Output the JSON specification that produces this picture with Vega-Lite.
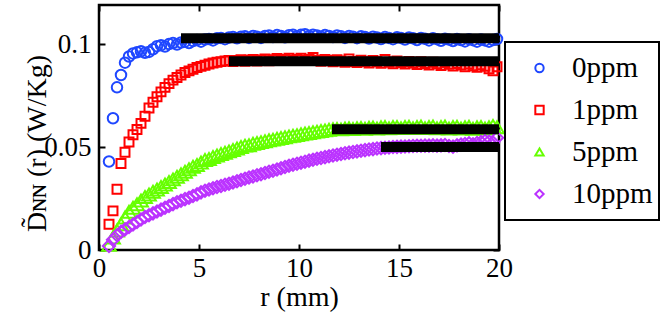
{
"$schema":"https://vega.github.io/schema/vega-lite/v6.json",
"width":400,"height":245,
"autosize":"none",
"padding":{"left":99,"top":5,"right":165,"bottom":82},
"background":"white",
"config":{
"view":{"stroke":"black","strokeWidth":2.5},
"font":"Liberation Serif",
"axis":{"labelFont":"Liberation Serif","labelFontSize":27,"labelColor":"black","titleFont":"Liberation Serif","titleFontSize":28,"titleFontWeight":"normal","titleColor":"black","tickColor":"black","tickWidth":2,"tickSize":-6,"domain":false,"grid":false,"labelFlush":false,"labelOverlap":false},
"legend":{"labelFont":"Liberation Serif","labelFontSize":29,"labelColor":"black","strokeColor":"black","strokeWidth":2,"fillColor":"white","symbolStrokeWidth":2,"symbolFillColor":"transparent"}
},
"datasets":{
"pts":[
{"r":0.5,"D":0.043,"c":"0ppm"},{"r":0.7,"D":0.064,"c":"0ppm"},{"r":0.9,"D":0.079,"c":"0ppm"},{"r":1.1,"D":0.085,"c":"0ppm"},{"r":1.3,"D":0.091,"c":"0ppm"},{"r":1.5,"D":0.094,"c":"0ppm"},{"r":1.7,"D":0.0955,"c":"0ppm"},{"r":1.9,"D":0.096,"c":"0ppm"},{"r":2.1,"D":0.0965,"c":"0ppm"},{"r":2.3,"D":0.0958,"c":"0ppm"},{"r":2.5,"D":0.0962,"c":"0ppm"},{"r":2.7,"D":0.0975,"c":"0ppm"},{"r":2.9,"D":0.099,"c":"0ppm"},{"r":3.1,"D":0.0995,"c":"0ppm"},{"r":3.3,"D":0.0988,"c":"0ppm"},{"r":3.5,"D":0.1,"c":"0ppm"},{"r":3.7,"D":0.1005,"c":"0ppm"},{"r":3.9,"D":0.0998,"c":"0ppm"},{"r":4.1,"D":0.1008,"c":"0ppm"},{"r":4.3,"D":0.1012,"c":"0ppm"},{"r":4.5,"D":0.1005,"c":"0ppm"},{"r":4.7,"D":0.1015,"c":"0ppm"},{"r":4.9,"D":0.102,"c":"0ppm"},{"r":5.1,"D":0.1012,"c":"0ppm"},{"r":5.3,"D":0.1022,"c":"0ppm"},{"r":5.5,"D":0.1025,"c":"0ppm"},{"r":5.7,"D":0.1018,"c":"0ppm"},{"r":5.9,"D":0.1028,"c":"0ppm"},{"r":6.1,"D":0.103,"c":"0ppm"},{"r":6.3,"D":0.1024,"c":"0ppm"},{"r":6.5,"D":0.1032,"c":"0ppm"},{"r":6.7,"D":0.1035,"c":"0ppm"},{"r":6.9,"D":0.1028,"c":"0ppm"},{"r":7.1,"D":0.1036,"c":"0ppm"},{"r":7.3,"D":0.1038,"c":"0ppm"},{"r":7.5,"D":0.103,"c":"0ppm"},{"r":7.7,"D":0.104,"c":"0ppm"},{"r":7.9,"D":0.1036,"c":"0ppm"},{"r":8.1,"D":0.103,"c":"0ppm"},{"r":8.3,"D":0.104,"c":"0ppm"},{"r":8.5,"D":0.1042,"c":"0ppm"},{"r":8.7,"D":0.1034,"c":"0ppm"},{"r":8.9,"D":0.1044,"c":"0ppm"},{"r":9.1,"D":0.104,"c":"0ppm"},{"r":9.3,"D":0.1033,"c":"0ppm"},{"r":9.5,"D":0.1043,"c":"0ppm"},{"r":9.7,"D":0.1046,"c":"0ppm"},{"r":9.9,"D":0.1038,"c":"0ppm"},{"r":10.1,"D":0.1045,"c":"0ppm"},{"r":10.3,"D":0.1048,"c":"0ppm"},{"r":10.5,"D":0.104,"c":"0ppm"},{"r":10.7,"D":0.1046,"c":"0ppm"},{"r":10.9,"D":0.1042,"c":"0ppm"},{"r":11.1,"D":0.1036,"c":"0ppm"},{"r":11.3,"D":0.1044,"c":"0ppm"},{"r":11.5,"D":0.104,"c":"0ppm"},{"r":11.7,"D":0.1034,"c":"0ppm"},{"r":11.9,"D":0.1042,"c":"0ppm"},{"r":12.1,"D":0.1038,"c":"0ppm"},{"r":12.3,"D":0.103,"c":"0ppm"},{"r":12.5,"D":0.104,"c":"0ppm"},{"r":12.7,"D":0.1036,"c":"0ppm"},{"r":12.9,"D":0.1029,"c":"0ppm"},{"r":13.1,"D":0.1038,"c":"0ppm"},{"r":13.3,"D":0.1035,"c":"0ppm"},{"r":13.5,"D":0.1027,"c":"0ppm"},{"r":13.7,"D":0.1036,"c":"0ppm"},{"r":13.9,"D":0.1032,"c":"0ppm"},{"r":14.1,"D":0.1025,"c":"0ppm"},{"r":14.3,"D":0.1034,"c":"0ppm"},{"r":14.5,"D":0.103,"c":"0ppm"},{"r":14.7,"D":0.1024,"c":"0ppm"},{"r":14.9,"D":0.1033,"c":"0ppm"},{"r":15.1,"D":0.103,"c":"0ppm"},{"r":15.3,"D":0.1022,"c":"0ppm"},{"r":15.5,"D":0.1032,"c":"0ppm"},{"r":15.7,"D":0.1028,"c":"0ppm"},{"r":15.9,"D":0.102,"c":"0ppm"},{"r":16.1,"D":0.103,"c":"0ppm"},{"r":16.3,"D":0.1026,"c":"0ppm"},{"r":16.5,"D":0.1018,"c":"0ppm"},{"r":16.7,"D":0.1028,"c":"0ppm"},{"r":16.9,"D":0.1024,"c":"0ppm"},{"r":17.1,"D":0.1016,"c":"0ppm"},{"r":17.3,"D":0.1026,"c":"0ppm"},{"r":17.5,"D":0.1022,"c":"0ppm"},{"r":17.7,"D":0.1015,"c":"0ppm"},{"r":17.9,"D":0.1025,"c":"0ppm"},{"r":18.1,"D":0.102,"c":"0ppm"},{"r":18.3,"D":0.1013,"c":"0ppm"},{"r":18.5,"D":0.1024,"c":"0ppm"},{"r":18.7,"D":0.1019,"c":"0ppm"},{"r":18.9,"D":0.1012,"c":"0ppm"},{"r":19.1,"D":0.1022,"c":"0ppm"},{"r":19.3,"D":0.1018,"c":"0ppm"},{"r":19.5,"D":0.1012,"c":"0ppm"},{"r":19.7,"D":0.102,"c":"0ppm"},{"r":19.9,"D":0.1025,"c":"0ppm"},
{"r":0.5,"D":0.0125,"c":"1ppm"},{"r":0.7,"D":0.019,"c":"1ppm"},{"r":0.9,"D":0.0295,"c":"1ppm"},{"r":1.1,"D":0.042,"c":"1ppm"},{"r":1.3,"D":0.0475,"c":"1ppm"},{"r":1.5,"D":0.0525,"c":"1ppm"},{"r":1.7,"D":0.056,"c":"1ppm"},{"r":1.9,"D":0.0585,"c":"1ppm"},{"r":2.1,"D":0.0615,"c":"1ppm"},{"r":2.3,"D":0.065,"c":"1ppm"},{"r":2.5,"D":0.069,"c":"1ppm"},{"r":2.7,"D":0.0718,"c":"1ppm"},{"r":2.9,"D":0.0744,"c":"1ppm"},{"r":3.1,"D":0.0768,"c":"1ppm"},{"r":3.3,"D":0.079,"c":"1ppm"},{"r":3.5,"D":0.0808,"c":"1ppm"},{"r":3.7,"D":0.0825,"c":"1ppm"},{"r":3.9,"D":0.0838,"c":"1ppm"},{"r":4.1,"D":0.085,"c":"1ppm"},{"r":4.3,"D":0.0862,"c":"1ppm"},{"r":4.5,"D":0.087,"c":"1ppm"},{"r":4.7,"D":0.0878,"c":"1ppm"},{"r":4.9,"D":0.0886,"c":"1ppm"},{"r":5.1,"D":0.0892,"c":"1ppm"},{"r":5.3,"D":0.0897,"c":"1ppm"},{"r":5.5,"D":0.0903,"c":"1ppm"},{"r":5.7,"D":0.0908,"c":"1ppm"},{"r":5.9,"D":0.0912,"c":"1ppm"},{"r":6.1,"D":0.0915,"c":"1ppm"},{"r":6.3,"D":0.0918,"c":"1ppm"},{"r":6.5,"D":0.092,"c":"1ppm"},{"r":6.7,"D":0.0915,"c":"1ppm"},{"r":6.9,"D":0.0921,"c":"1ppm"},{"r":7.1,"D":0.0924,"c":"1ppm"},{"r":7.3,"D":0.0917,"c":"1ppm"},{"r":7.5,"D":0.0922,"c":"1ppm"},{"r":7.7,"D":0.0926,"c":"1ppm"},{"r":7.9,"D":0.0918,"c":"1ppm"},{"r":8.1,"D":0.0923,"c":"1ppm"},{"r":8.3,"D":0.0928,"c":"1ppm"},{"r":8.5,"D":0.0919,"c":"1ppm"},{"r":8.7,"D":0.0924,"c":"1ppm"},{"r":8.9,"D":0.093,"c":"1ppm"},{"r":9.1,"D":0.092,"c":"1ppm"},{"r":9.3,"D":0.0925,"c":"1ppm"},{"r":9.5,"D":0.0931,"c":"1ppm"},{"r":9.7,"D":0.0921,"c":"1ppm"},{"r":9.9,"D":0.0926,"c":"1ppm"},{"r":10.1,"D":0.0932,"c":"1ppm"},{"r":10.3,"D":0.0921,"c":"1ppm"},{"r":10.5,"D":0.0925,"c":"1ppm"},{"r":10.7,"D":0.0935,"c":"1ppm"},{"r":10.9,"D":0.0922,"c":"1ppm"},{"r":11.1,"D":0.0917,"c":"1ppm"},{"r":11.3,"D":0.0926,"c":"1ppm"},{"r":11.5,"D":0.092,"c":"1ppm"},{"r":11.7,"D":0.0914,"c":"1ppm"},{"r":11.9,"D":0.0924,"c":"1ppm"},{"r":12.1,"D":0.0918,"c":"1ppm"},{"r":12.3,"D":0.0912,"c":"1ppm"},{"r":12.5,"D":0.0928,"c":"1ppm"},{"r":12.7,"D":0.0916,"c":"1ppm"},{"r":12.9,"D":0.091,"c":"1ppm"},{"r":13.1,"D":0.0922,"c":"1ppm"},{"r":13.3,"D":0.0915,"c":"1ppm"},{"r":13.5,"D":0.0908,"c":"1ppm"},{"r":13.7,"D":0.092,"c":"1ppm"},{"r":13.9,"D":0.0914,"c":"1ppm"},{"r":14.1,"D":0.0907,"c":"1ppm"},{"r":14.3,"D":0.0925,"c":"1ppm"},{"r":14.5,"D":0.0912,"c":"1ppm"},{"r":14.7,"D":0.0905,"c":"1ppm"},{"r":14.9,"D":0.0918,"c":"1ppm"},{"r":15.1,"D":0.091,"c":"1ppm"},{"r":15.3,"D":0.0903,"c":"1ppm"},{"r":15.5,"D":0.0916,"c":"1ppm"},{"r":15.7,"D":0.0908,"c":"1ppm"},{"r":15.9,"D":0.0901,"c":"1ppm"},{"r":16.1,"D":0.0914,"c":"1ppm"},{"r":16.3,"D":0.0906,"c":"1ppm"},{"r":16.5,"D":0.0899,"c":"1ppm"},{"r":16.7,"D":0.0912,"c":"1ppm"},{"r":16.9,"D":0.0904,"c":"1ppm"},{"r":17.1,"D":0.0896,"c":"1ppm"},{"r":17.3,"D":0.091,"c":"1ppm"},{"r":17.5,"D":0.0902,"c":"1ppm"},{"r":17.7,"D":0.0893,"c":"1ppm"},{"r":17.9,"D":0.0906,"c":"1ppm"},{"r":18.1,"D":0.0898,"c":"1ppm"},{"r":18.3,"D":0.089,"c":"1ppm"},{"r":18.5,"D":0.0903,"c":"1ppm"},{"r":18.7,"D":0.0895,"c":"1ppm"},{"r":18.9,"D":0.0887,"c":"1ppm"},{"r":19.1,"D":0.09,"c":"1ppm"},{"r":19.3,"D":0.0892,"c":"1ppm"},{"r":19.5,"D":0.088,"c":"1ppm"},{"r":19.7,"D":0.087,"c":"1ppm"},{"r":19.9,"D":0.089,"c":"1ppm"},
{"r":0.5,"D":0.0025,"c":"5ppm"},{"r":0.7,"D":0.006,"c":"5ppm"},{"r":0.9,"D":0.0095,"c":"5ppm"},{"r":1.1,"D":0.0125,"c":"5ppm"},{"r":1.3,"D":0.0158,"c":"5ppm"},{"r":1.5,"D":0.0186,"c":"5ppm"},{"r":1.7,"D":0.0205,"c":"5ppm"},{"r":1.9,"D":0.0222,"c":"5ppm"},{"r":2.1,"D":0.024,"c":"5ppm"},{"r":2.3,"D":0.0257,"c":"5ppm"},{"r":2.5,"D":0.027,"c":"5ppm"},{"r":2.7,"D":0.0283,"c":"5ppm"},{"r":2.9,"D":0.0294,"c":"5ppm"},{"r":3.1,"D":0.0306,"c":"5ppm"},{"r":3.3,"D":0.0318,"c":"5ppm"},{"r":3.5,"D":0.033,"c":"5ppm"},{"r":3.7,"D":0.0343,"c":"5ppm"},{"r":3.9,"D":0.0356,"c":"5ppm"},{"r":4.1,"D":0.0368,"c":"5ppm"},{"r":4.3,"D":0.038,"c":"5ppm"},{"r":4.5,"D":0.0392,"c":"5ppm"},{"r":4.7,"D":0.0404,"c":"5ppm"},{"r":4.9,"D":0.0413,"c":"5ppm"},{"r":5.1,"D":0.0425,"c":"5ppm"},{"r":5.3,"D":0.0437,"c":"5ppm"},{"r":5.5,"D":0.0442,"c":"5ppm"},{"r":5.7,"D":0.0452,"c":"5ppm"},{"r":5.9,"D":0.0459,"c":"5ppm"},{"r":6.1,"D":0.0466,"c":"5ppm"},{"r":6.3,"D":0.0472,"c":"5ppm"},{"r":6.5,"D":0.0479,"c":"5ppm"},{"r":6.7,"D":0.0486,"c":"5ppm"},{"r":6.9,"D":0.0493,"c":"5ppm"},{"r":7.1,"D":0.05,"c":"5ppm"},{"r":7.3,"D":0.0507,"c":"5ppm"},{"r":7.5,"D":0.0509,"c":"5ppm"},{"r":7.7,"D":0.0516,"c":"5ppm"},{"r":7.9,"D":0.052,"c":"5ppm"},{"r":8.1,"D":0.0524,"c":"5ppm"},{"r":8.3,"D":0.0528,"c":"5ppm"},{"r":8.5,"D":0.0533,"c":"5ppm"},{"r":8.7,"D":0.0536,"c":"5ppm"},{"r":8.9,"D":0.054,"c":"5ppm"},{"r":9.1,"D":0.0544,"c":"5ppm"},{"r":9.3,"D":0.0548,"c":"5ppm"},{"r":9.5,"D":0.0552,"c":"5ppm"},{"r":9.7,"D":0.0555,"c":"5ppm"},{"r":9.9,"D":0.0558,"c":"5ppm"},{"r":10.1,"D":0.0562,"c":"5ppm"},{"r":10.3,"D":0.0566,"c":"5ppm"},{"r":10.5,"D":0.0568,"c":"5ppm"},{"r":10.7,"D":0.0572,"c":"5ppm"},{"r":10.9,"D":0.0575,"c":"5ppm"},{"r":11.1,"D":0.0578,"c":"5ppm"},{"r":11.3,"D":0.0581,"c":"5ppm"},{"r":11.5,"D":0.0584,"c":"5ppm"},{"r":11.7,"D":0.0587,"c":"5ppm"},{"r":11.9,"D":0.0588,"c":"5ppm"},{"r":12.1,"D":0.0586,"c":"5ppm"},{"r":12.3,"D":0.059,"c":"5ppm"},{"r":12.5,"D":0.0591,"c":"5ppm"},{"r":12.7,"D":0.0588,"c":"5ppm"},{"r":12.9,"D":0.0592,"c":"5ppm"},{"r":13.1,"D":0.0593,"c":"5ppm"},{"r":13.3,"D":0.0589,"c":"5ppm"},{"r":13.5,"D":0.0594,"c":"5ppm"},{"r":13.7,"D":0.0595,"c":"5ppm"},{"r":13.9,"D":0.059,"c":"5ppm"},{"r":14.1,"D":0.0596,"c":"5ppm"},{"r":14.3,"D":0.0597,"c":"5ppm"},{"r":14.5,"D":0.0591,"c":"5ppm"},{"r":14.7,"D":0.0597,"c":"5ppm"},{"r":14.9,"D":0.0598,"c":"5ppm"},{"r":15.1,"D":0.0592,"c":"5ppm"},{"r":15.3,"D":0.0598,"c":"5ppm"},{"r":15.5,"D":0.0599,"c":"5ppm"},{"r":15.7,"D":0.0592,"c":"5ppm"},{"r":15.9,"D":0.0598,"c":"5ppm"},{"r":16.1,"D":0.06,"c":"5ppm"},{"r":16.3,"D":0.0592,"c":"5ppm"},{"r":16.5,"D":0.0598,"c":"5ppm"},{"r":16.7,"D":0.06,"c":"5ppm"},{"r":16.9,"D":0.0591,"c":"5ppm"},{"r":17.1,"D":0.0598,"c":"5ppm"},{"r":17.3,"D":0.06,"c":"5ppm"},{"r":17.5,"D":0.059,"c":"5ppm"},{"r":17.7,"D":0.0597,"c":"5ppm"},{"r":17.9,"D":0.0599,"c":"5ppm"},{"r":18.1,"D":0.059,"c":"5ppm"},{"r":18.3,"D":0.0596,"c":"5ppm"},{"r":18.5,"D":0.0599,"c":"5ppm"},{"r":18.7,"D":0.0589,"c":"5ppm"},{"r":18.9,"D":0.0596,"c":"5ppm"},{"r":19.1,"D":0.0598,"c":"5ppm"},{"r":19.3,"D":0.059,"c":"5ppm"},{"r":19.5,"D":0.0596,"c":"5ppm"},{"r":19.7,"D":0.0602,"c":"5ppm"},{"r":19.9,"D":0.0596,"c":"5ppm"},
{"r":0.5,"D":0.002,"c":"10ppm"},{"r":0.7,"D":0.005,"c":"10ppm"},{"r":0.9,"D":0.0072,"c":"10ppm"},{"r":1.1,"D":0.0088,"c":"10ppm"},{"r":1.3,"D":0.01,"c":"10ppm"},{"r":1.5,"D":0.0112,"c":"10ppm"},{"r":1.7,"D":0.0124,"c":"10ppm"},{"r":1.9,"D":0.0136,"c":"10ppm"},{"r":2.1,"D":0.0148,"c":"10ppm"},{"r":2.3,"D":0.016,"c":"10ppm"},{"r":2.5,"D":0.0169,"c":"10ppm"},{"r":2.7,"D":0.0178,"c":"10ppm"},{"r":2.9,"D":0.0187,"c":"10ppm"},{"r":3.1,"D":0.0196,"c":"10ppm"},{"r":3.3,"D":0.0205,"c":"10ppm"},{"r":3.5,"D":0.0214,"c":"10ppm"},{"r":3.7,"D":0.0223,"c":"10ppm"},{"r":3.9,"D":0.0232,"c":"10ppm"},{"r":4.1,"D":0.0239,"c":"10ppm"},{"r":4.3,"D":0.0247,"c":"10ppm"},{"r":4.5,"D":0.0254,"c":"10ppm"},{"r":4.7,"D":0.0262,"c":"10ppm"},{"r":4.9,"D":0.027,"c":"10ppm"},{"r":5.1,"D":0.028,"c":"10ppm"},{"r":5.3,"D":0.0288,"c":"10ppm"},{"r":5.5,"D":0.0294,"c":"10ppm"},{"r":5.7,"D":0.03,"c":"10ppm"},{"r":5.9,"D":0.0306,"c":"10ppm"},{"r":6.1,"D":0.0311,"c":"10ppm"},{"r":6.3,"D":0.0317,"c":"10ppm"},{"r":6.5,"D":0.0322,"c":"10ppm"},{"r":6.7,"D":0.0328,"c":"10ppm"},{"r":6.9,"D":0.0334,"c":"10ppm"},{"r":7.1,"D":0.034,"c":"10ppm"},{"r":7.3,"D":0.0346,"c":"10ppm"},{"r":7.5,"D":0.0352,"c":"10ppm"},{"r":7.7,"D":0.0357,"c":"10ppm"},{"r":7.9,"D":0.0363,"c":"10ppm"},{"r":8.1,"D":0.0368,"c":"10ppm"},{"r":8.3,"D":0.0374,"c":"10ppm"},{"r":8.5,"D":0.038,"c":"10ppm"},{"r":8.7,"D":0.0385,"c":"10ppm"},{"r":8.9,"D":0.0391,"c":"10ppm"},{"r":9.1,"D":0.0397,"c":"10ppm"},{"r":9.3,"D":0.0403,"c":"10ppm"},{"r":9.5,"D":0.0409,"c":"10ppm"},{"r":9.7,"D":0.0414,"c":"10ppm"},{"r":9.9,"D":0.0419,"c":"10ppm"},{"r":10.1,"D":0.0424,"c":"10ppm"},{"r":10.3,"D":0.0429,"c":"10ppm"},{"r":10.5,"D":0.0434,"c":"10ppm"},{"r":10.7,"D":0.0438,"c":"10ppm"},{"r":10.9,"D":0.0443,"c":"10ppm"},{"r":11.1,"D":0.0447,"c":"10ppm"},{"r":11.3,"D":0.0451,"c":"10ppm"},{"r":11.5,"D":0.0455,"c":"10ppm"},{"r":11.7,"D":0.0459,"c":"10ppm"},{"r":11.9,"D":0.0463,"c":"10ppm"},{"r":12.1,"D":0.0466,"c":"10ppm"},{"r":12.3,"D":0.047,"c":"10ppm"},{"r":12.5,"D":0.0473,"c":"10ppm"},{"r":12.7,"D":0.0476,"c":"10ppm"},{"r":12.9,"D":0.0479,"c":"10ppm"},{"r":13.1,"D":0.0482,"c":"10ppm"},{"r":13.3,"D":0.0485,"c":"10ppm"},{"r":13.5,"D":0.0488,"c":"10ppm"},{"r":13.7,"D":0.049,"c":"10ppm"},{"r":13.9,"D":0.0493,"c":"10ppm"},{"r":14.1,"D":0.0495,"c":"10ppm"},{"r":14.3,"D":0.0497,"c":"10ppm"},{"r":14.5,"D":0.0498,"c":"10ppm"},{"r":14.7,"D":0.05,"c":"10ppm"},{"r":14.9,"D":0.0501,"c":"10ppm"},{"r":15.1,"D":0.0502,"c":"10ppm"},{"r":15.3,"D":0.0503,"c":"10ppm"},{"r":15.5,"D":0.0504,"c":"10ppm"},{"r":15.7,"D":0.0505,"c":"10ppm"},{"r":15.9,"D":0.0506,"c":"10ppm"},{"r":16.1,"D":0.0506,"c":"10ppm"},{"r":16.3,"D":0.0507,"c":"10ppm"},{"r":16.5,"D":0.0507,"c":"10ppm"},{"r":16.7,"D":0.0508,"c":"10ppm"},{"r":16.9,"D":0.0507,"c":"10ppm"},{"r":17.1,"D":0.0508,"c":"10ppm"},{"r":17.3,"D":0.051,"c":"10ppm"},{"r":17.5,"D":0.0505,"c":"10ppm"},{"r":17.7,"D":0.0502,"c":"10ppm"},{"r":17.9,"D":0.0508,"c":"10ppm"},{"r":18.1,"D":0.0512,"c":"10ppm"},{"r":18.3,"D":0.0515,"c":"10ppm"},{"r":18.5,"D":0.0518,"c":"10ppm"},{"r":18.7,"D":0.0514,"c":"10ppm"},{"r":18.9,"D":0.052,"c":"10ppm"},{"r":19.1,"D":0.0524,"c":"10ppm"},{"r":19.3,"D":0.053,"c":"10ppm"},{"r":19.5,"D":0.0527,"c":"10ppm"},{"r":19.7,"D":0.0522,"c":"10ppm"},{"r":19.9,"D":0.0545,"c":"10ppm"}
],
"fits":[
{"r0":4.1,"r1":20,"D":0.1029,"c":"0ppm"},
{"r0":6.5,"r1":20,"D":0.0917,"c":"1ppm"},
{"r0":11.65,"r1":20,"D":0.0586,"c":"5ppm"},
{"r0":14.1,"r1":20,"D":0.05,"c":"10ppm"}
]
},
"layer":[
{"data":{"name":"pts"},"transform":[{"filter":"datum.c === '0ppm'"}],
"mark":{"type":"point","filled":false,"strokeWidth":2,"opacity":1,"size":110},
"encoding":{
"x":{"field":"r","type":"quantitative","scale":{"domain":[0,20],"nice":false,"zero":false},"axis":{"values":[0,5,10,15,20],"format":"~g","labelPadding":11,"title":"r  (mm)","titleX":200,"titleY":47,"titleBaseline":"middle","titleAlign":"center"}},
"y":{"field":"D","type":"quantitative","scale":{"domain":[0,0.119],"nice":false},"axis":{"values":[0,0.05,0.1],"format":"~g","labelPadding":14,"title":"D̃ɴɴ (r)   (W/Kg)","titleX":-62,"titleY":138,"titleAngle":270,"titleAlign":"center","titleBaseline":"middle"}},
"color":{"field":"c","type":"nominal","title":null,"scale":{"domain":["0ppm","1ppm","5ppm","10ppm"],"range":["#1f47ff","#ff0000","#66ff00","#bb33ff"]},"legend":{"orient":"none","legendX":406,"legendY":37,"title":null,"direction":"vertical","columns":1,"titlePadding":0,"offset":0,"labelBaseline":"middle","padding":6,"rowPadding":2,"symbolOffset":14,"labelOffset":18,"clipHeight":40,"symbolSize":70,"labelFontSize":29}},
"shape":{"field":"c","type":"nominal","title":null,"scale":{"domain":["0ppm","1ppm","5ppm","10ppm"],"range":["circle","square","triangle-up","diamond"]},"legend":{"orient":"none","legendX":406,"legendY":37,"title":null,"direction":"vertical","columns":1,"titlePadding":0,"offset":0,"labelBaseline":"middle","padding":6,"rowPadding":2,"symbolOffset":14,"labelOffset":18,"clipHeight":40,"symbolSize":70,"labelFontSize":29}}
}},
{"data":{"name":"pts"},"transform":[{"filter":"datum.c === '1ppm'"}],
"mark":{"type":"point","filled":false,"strokeWidth":2,"opacity":1,"size":80},
"encoding":{
"x":{"field":"r","type":"quantitative","axis":null},
"y":{"field":"D","type":"quantitative","axis":null},
"color":{"field":"c","type":"nominal","title":null},
"shape":{"field":"c","type":"nominal","title":null}
}},
{"data":{"name":"pts"},"transform":[{"filter":"datum.c === '5ppm'"}],
"mark":{"type":"point","filled":false,"strokeWidth":2,"opacity":1,"size":190},
"encoding":{
"x":{"field":"r","type":"quantitative","axis":null},
"y":{"field":"D","type":"quantitative","axis":null},
"color":{"field":"c","type":"nominal","title":null},
"shape":{"field":"c","type":"nominal","title":null}
}},
{"data":{"name":"pts"},"transform":[{"filter":"datum.c === '10ppm'"}],
"mark":{"type":"point","filled":false,"strokeWidth":2,"opacity":1,"size":150},
"encoding":{
"x":{"field":"r","type":"quantitative","axis":null},
"y":{"field":"D","type":"quantitative","axis":null},
"color":{"field":"c","type":"nominal","title":null},
"shape":{"field":"c","type":"nominal","title":null}
}},
{"data":{"name":"fits"},
"mark":{"type":"rule","color":"black","strokeWidth":10,"strokeCap":"butt"},
"encoding":{
"x":{"field":"r0","type":"quantitative","axis":{"orient":"top","labels":false,"title":null,"values":[0,5,10,15,20]}},
"x2":{"field":"r1"},
"y":{"field":"D","type":"quantitative","axis":{"orient":"right","labels":false,"title":null,"values":[0,0.05,0.1]}}
}}
],
"resolve":{"axis":{"x":"independent","y":"independent"}}
}
